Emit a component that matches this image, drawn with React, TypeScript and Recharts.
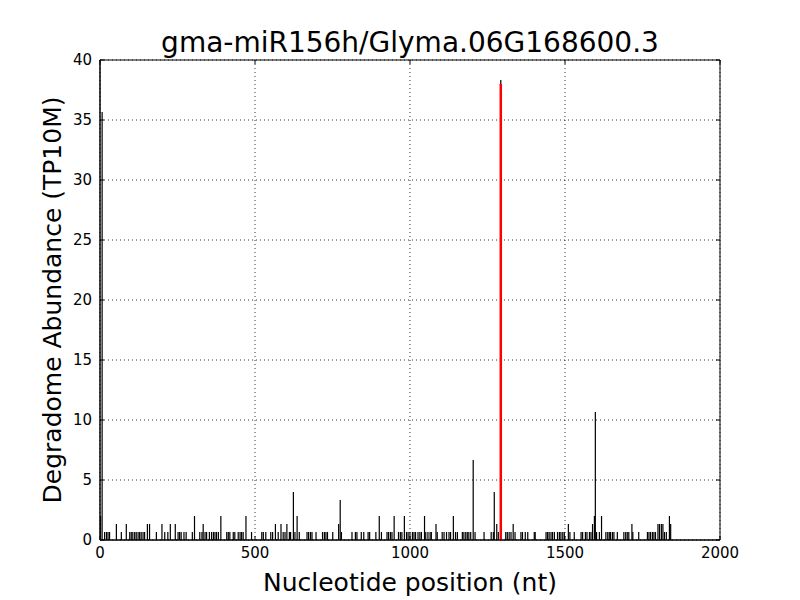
import { Bar, CartesianGrid, ComposedChart, ReferenceArea, XAxis, YAxis } from "recharts";

// degradome reads along the transcript, grouped by abundance level (TP10M)
const peaks067 = [
  15, 21, 26, 31, 69, 96, 101, 106, 112, 117, 123, 128, 133, 139, 144, 182, 209, 219, 252, 257, 262, 271,
  278, 298, 322, 329, 339, 344, 353, 360, 366, 371, 376, 382, 409, 414, 419, 430, 435, 446, 452, 457, 462,
  489, 522, 527, 535, 551, 557, 575, 591, 597, 611, 615, 629, 643, 668, 673, 679, 684, 697, 718, 724, 729,
  734, 751, 779, 813, 824, 829, 843, 851, 865, 870, 890, 908, 926, 931, 937, 942, 963, 969, 974, 989, 994,
  1000, 1008, 1013, 1018, 1026, 1032, 1037, 1051, 1058, 1065, 1069, 1088, 1104, 1110, 1118, 1126, 1131,
  1147, 1153, 1169, 1174, 1180, 1185, 1190, 1196, 1210, 1239, 1262, 1269, 1285, 1309, 1314, 1320, 1326,
  1339, 1358, 1363, 1372, 1380, 1401, 1404, 1439, 1444, 1449, 1455, 1460, 1466, 1476, 1482, 1487, 1493,
  1498, 1516, 1530, 1552, 1557, 1566, 1571, 1579, 1584, 1602, 1611, 1632, 1638, 1643, 1647, 1653, 1658,
  1669, 1690, 1696, 1701, 1706, 1719, 1738, 1766, 1771, 1776, 1782, 1787, 1792, 1821, 1827,
];
const peaks133 = [
  53, 85, 153, 160, 200, 227, 243, 333, 566, 584, 603, 770, 1084, 1280, 1333, 1511, 1589, 1716, 1800,
  1805, 1811, 1816, 1841,
];
const peaks200 = [2, 305, 390, 471, 636, 901, 949, 982, 1047, 1140, 1595, 1618, 1837];
const tallPeaks: [number, number][] = [
  [7, 35.67],
  [624, 4],
  [775, 3.33],
  [1204, 6.67],
  [1272, 4],
  [1293, 38.33],
  [1598, 10.67],
];
// predicted miRNA cleavage site
const targetPos = 1293;
const targetValue = 38;

const xTicks = [0, 500, 1000, 1500, 2000];
const yTicks = [0, 5, 10, 15, 20, 25, 30, 35, 40];

type Row = { pos: number; v: number; t?: number };

const rows: Row[] = [
  ...peaks067.map((p) => ({ pos: p, v: 0.67 })),
  ...peaks133.map((p) => ({ pos: p, v: 1.33 })),
  ...peaks200.map((p) => ({ pos: p, v: 2 })),
  ...tallPeaks.map(([p, v]) => ({ pos: p, v })),
]
  .map((r) => (r.pos === targetPos ? { ...r, t: targetValue } : r))
  .sort((a, b) => a.pos - b.pos);

const PLOT_W = 620;
const PLOT_H = 480;
const TICK = 4;
const X_MARGIN = 7;
const Y_MARGIN = 8;

function XTick(props: any) {
  const { x, y, payload } = props;
  const axisY = y - X_MARGIN;
  return (
    <g>
      <line x1={x} x2={x} y1={axisY} y2={axisY - TICK} stroke="#000" />
      <line x1={x} x2={x} y1={axisY - PLOT_H} y2={axisY - PLOT_H + TICK} stroke="#000" />
      <text x={x} y={y} dy="0.71em" textAnchor="middle" fontSize={15} fill="#000">
        {payload.value}
      </text>
    </g>
  );
}

function YTick(props: any) {
  const { x, y, payload } = props;
  const axisX = x + Y_MARGIN;
  return (
    <g>
      <line x1={axisX} x2={axisX + TICK} y1={y} y2={y} stroke="#000" />
      <line x1={axisX + PLOT_W} x2={axisX + PLOT_W - TICK} y1={y} y2={y} stroke="#000" />
      <text x={x} y={y} dy="0.355em" textAnchor="end" fontSize={15} fill="#000">
        {payload.value}
      </text>
    </g>
  );
}

// draw each bar as a vertical stem centred on its position
function stem(color: string, w: number) {
  return (props: any) => {
    const { x, y, width, height } = props;
    if (!height) return <g />;
    const cx = x + width / 2;
    return <line x1={cx} x2={cx} y1={y} y2={y + height} stroke={color} strokeWidth={w} />;
  };
}

export default function App() {
  return (
    <div
      style={{
        position: "absolute",
        left: 0,
        top: 0,
        width: 800,
        height: 600,
        background: "#fff",
        fontFamily: "'DejaVu Sans', sans-serif",
      }}
    >
      <div
        style={{
          position: "absolute",
          left: 100,
          top: 29,
          width: PLOT_W,
          textAlign: "center",
          fontSize: 28,
          lineHeight: 1,
          color: "#000",
        }}
      >
        gma-miR156h/Glyma.06G168600.3
      </div>
      <ComposedChart
        width={800}
        height={600}
        data={rows}
        margin={{ top: 60, right: 80, bottom: 0, left: 0 }}
      >
        <CartesianGrid stroke="#000" strokeWidth={0.8} strokeDasharray="1 3" />
        <XAxis
          dataKey="pos"
          type="number"
          domain={[0, 2000]}
          ticks={xTicks}
          height={60}
          stroke="#000"
          tickLine={false}
          tickSize={0}
          tickMargin={X_MARGIN}
          tick={<XTick />}
          allowDataOverflow
          label={{ value: "Nucleotide position (nt)", position: "center", dy: 12, fontSize: 25, fill: "#000" }}
        />
        <XAxis xAxisId="r" dataKey="pos" type="number" domain={[0, 2000]} hide allowDataOverflow />
        <YAxis
          type="number"
          domain={[0, 40]}
          ticks={yTicks}
          width={100}
          stroke="#000"
          tickLine={false}
          tickSize={0}
          tickMargin={Y_MARGIN}
          tick={<YTick />}
          allowDataOverflow
          label={{
            value: "Degradome Abundance (TP10M)",
            angle: -90,
            position: "center",
            dx: 2,
            fontSize: 25,
            fill: "#000",
          }}
        />
        <Bar dataKey="v" fill="#000" barSize={1} shape={stem("#000", 1.2)} isAnimationActive={false} />
        <Bar dataKey="t" xAxisId="r" fill="#ff0000" barSize={1} shape={stem("#ff0000", 2.5)} isAnimationActive={false} />
        <ReferenceArea x1={0} x2={2000} y1={0} y2={40} fill="none" stroke="#000" strokeWidth={1} />
      </ComposedChart>
    </div>
  );
}
